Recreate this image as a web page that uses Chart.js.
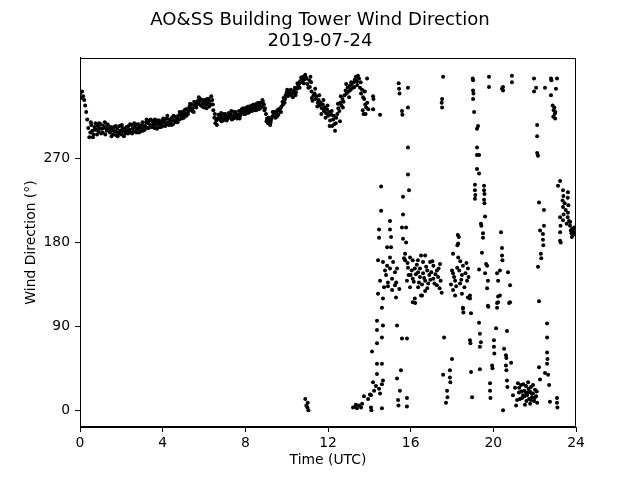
<!DOCTYPE html>
<html><head><meta charset="utf-8">
<script src="https://cdn.jsdelivr.net/npm/chart.js@4"></script>
<style>html,body{margin:0;padding:0;background:#fff}#wrap{width:640px;height:480px}</style>
</head><body><div id="wrap"><canvas id="c" width="640" height="480"></canvas></div>
<script>
// ---- Data: [hour UTC, wind direction degrees] ----
const hourTicks = [0, 4, 8, 12, 16, 20, 24];
const dirTicks = [0, 90, 180, 270];

const morningObs = [
[0.00,340],[0.05,335],[0.10,342],[0.15,337],[0.20,333],[0.25,327],[0.30,320],[0.35,312],[0.40,303],[0.45,293],
[0.50,298],[0.55,306],[0.60,300],[0.65,296],[0.70,304],[0.75,308],[0.80,301],[0.85,305],[0.90,299],[0.95,303],[1.00,307],[1.05,302],[1.10,298],[1.15,305],[1.20,309],[1.25,303],[1.30,300],[1.35,306],[1.40,302],[1.45,298],[1.50,304],
[1.55,301],[1.60,296],[1.65,304],[1.70,299],[1.75,295],[1.80,302],[1.85,298],[1.90,305],[1.95,300],[2.00,296],[2.05,303],[2.10,299],[2.15,302],[2.20,297],[2.25,304],[2.30,300],
[2.35,305],[2.40,301],[2.45,298],[2.50,306],[2.55,302],[2.60,299],[2.65,304],[2.70,307],[2.75,301],[2.80,303],[2.85,298],[2.90,305],[2.95,302],[3.00,306],[3.05,300],[3.10,304],
[3.15,305],[3.20,309],[3.25,303],[3.30,308],[3.35,311],[3.40,306],[3.45,304],[3.50,310],[3.55,307],[3.60,303],[3.65,309],[3.70,306],[3.75,311],[3.80,308],[3.85,304],[3.90,307],[3.95,310],[4.00,305],[4.05,309],[4.10,312],
[4.15,308],[4.20,313],[4.25,309],[4.30,306],[4.35,312],[4.40,310],[4.45,314],[4.50,307],[4.55,311],[4.60,315],[4.65,309],[4.70,313],
[4.75,316],[4.80,312],[4.85,318],[4.90,315],[4.95,320],[5.00,317],[5.05,322],[5.10,319],[5.15,316],[5.20,323],
[5.25,321],[5.30,326],[5.35,323],[5.40,328],[5.45,324],[5.50,320],[5.55,327],[5.60,330],
[5.65,328],[5.70,332],[5.75,336],[5.80,331],[5.85,327],[5.90,333],[5.95,329],[6.00,325],[6.05,331],[6.10,328],[6.15,334],[6.20,330],[6.25,326],[6.30,332],[6.35,337],[6.40,333],
[6.45,322],[6.50,314],[6.55,308],[6.60,311],
[6.65,313],[6.70,317],[6.75,312],[6.80,316],[6.85,310],[6.90,314],[6.95,318],[7.00,313],[7.05,316],[7.10,311],[7.15,315],[7.20,319],[7.25,314],[7.30,317],[7.35,312],[7.40,316],[7.45,320],[7.50,315],[7.55,318],[7.60,313],[7.65,317],[7.70,321],[7.75,316],[7.80,319],
[7.85,320],[7.90,324],[7.95,321],[8.00,318],[8.05,325],[8.10,322],[8.15,326],[8.20,320],[8.25,323],[8.30,327],
[8.35,324],[8.40,328],[8.45,322],[8.50,326],[8.55,329],[8.60,325],[8.65,323],[8.70,327],
[8.75,330],[8.80,326],[8.85,331],[8.90,328],[8.95,324],[9.00,318],
[9.05,313],[9.10,308],[9.15,311],[9.20,306],[9.25,312],[9.30,315],
[9.35,316],[9.40,320],[9.45,314],[9.50,319],[9.55,322],[9.60,317],[9.65,321],[9.70,324],
[9.75,326],[9.80,331],[9.85,335],[9.90,330],[9.95,338],[10.00,341],
[10.05,337],[10.10,342],[10.15,339],[10.20,344],[10.25,340],[10.30,336],[10.35,343],[10.40,346],[10.45,341],[10.50,345],[10.55,348],[10.60,350],
[10.65,353],[10.70,357],[10.75,352],[10.80,358],[10.85,355],[10.90,360],[10.95,356],[11.00,350],[11.05,346],[11.10,354],
[10.90,12],[10.95,5],[11.00,3],[11.02,8],[11.05,0]
];

const morningObs2 = [
[0.525,309],[0.625,293],[0.725,301],[0.825,296],[0.925,308],[1.025,297],[1.125,303],[1.225,296],[1.325,307],[1.425,301],
[1.525,294],[1.625,300],[1.725,305],[1.825,294],[1.925,297],[2.025,306],[2.125,294],[2.225,301],
[2.325,297],[2.425,307],[2.525,297],[2.625,308],[2.725,298],[2.825,307],[2.925,299],[3.025,309],
[3.125,301],[3.225,312],[3.325,303],[3.425,312],[3.525,304],[3.625,312],[3.725,302],[3.825,311],[3.925,304],[4.025,313],
[4.125,305],[4.225,316],[4.325,309],[4.425,306],[4.525,316],[4.625,310],
[4.725,309],[4.825,320],[4.925,313],[5.025,314],[5.125,323],
[5.225,318],[5.325,329],[5.425,321],[5.525,331],
[5.625,325],[5.725,329],[5.825,334],[5.925,326],[6.025,333],[6.125,324],[6.225,334],[6.325,328],
[6.425,328],[6.525,318],[6.625,306],
[6.725,314],[6.825,319],[6.925,311],[7.025,318],[7.125,313],[7.225,316],[7.325,321],[7.425,313],[7.525,320],[7.625,315],[7.725,313],[7.825,323],
[7.925,318],[8.025,322],[8.125,319],[8.225,325],[8.325,321],[8.425,324],[8.525,322],[8.625,330],
[8.725,324],[8.825,333],[8.925,322],[9.025,310],[9.125,314],[9.225,309],[9.325,320],
[9.425,318],[9.525,315],[9.625,323],[9.725,320],[9.825,328],[9.925,334],
[10.025,344],[10.125,338],[10.225,338],[10.325,341],[10.425,338],[10.525,351],[10.625,346],[10.725,354],[10.825,351],[10.925,357]
];

const noonObs = [
[11.15,358],[11.20,342],[11.22,335],[11.25,332],[11.30,338],[11.35,340],[11.40,334],[11.45,337],[11.50,330],[11.55,333],[11.60,327],[11.65,330],[11.70,324],[11.75,328],[11.80,321],[11.85,325],[11.90,319],[11.95,323],[12.00,316],[12.05,320],[12.10,311],[12.15,317],[12.20,305],[12.25,312],[12.30,307],[12.34,300],[12.40,314],[12.45,318],[12.50,324],[12.55,321],[12.58,310],[12.60,330],[12.65,327],[12.70,334],[12.75,331],[12.80,338],[12.85,343],[12.90,340],[12.95,346],[13.00,342],[13.05,348],[13.10,344],[13.15,350],[13.20,346],[13.25,352],[13.30,355],[13.35,358],[13.40,353],[13.45,359],[13.50,356],[13.55,346],[13.60,340],[13.65,344],[13.68,322],[13.70,336],[13.72,318],[13.75,334],[13.80,328],[13.85,325],[13.89,356],[13.90,330],[13.95,323],[14.18,337],[14.20,334],[14.18,323],[14.52,317],
[11.12,347],[11.18,352],[11.38,345],[11.48,326],[11.58,338],[11.68,318],[11.78,333],[11.88,314],[11.98,327],[12.08,305],[12.18,321],[12.28,316],[12.38,308],[12.48,329],[12.62,337],[12.72,325],[12.88,350],[13.02,336],[13.12,352],[13.28,347],[13.42,349],[13.58,352],[13.78,342],[13.82,318]
];

const upperObs = [
[15.42,351],[15.44,345],[15.46,340],[15.58,321],[15.60,317],[15.87,346],[15.87,325],[15.87,282],[17.57,358],[17.52,334],[17.50,330],[17.52,325],[19.00,356],[19.02,354],[19.02,343],[19.04,340],[19.02,334],[19.07,320],[19.26,305],[19.21,302],[19.21,282],[19.21,274],[19.31,274],[19.21,259],[19.31,254],[19.79,358],[19.79,347],[20.42,345],[20.47,347],[20.47,343],[20.90,359],[20.90,352],[21.97,356],[22.07,346],[21.97,342],[22.12,306],[22.12,294],[22.12,276],[22.16,273],[22.50,346],[22.79,356],[22.81,354],[23.08,356],[23.03,345],[22.79,338],[22.87,327],[22.92,322],[22.97,318],[22.90,315],[22.95,325],[22.99,313],[23.00,320]
];

const midObs = [
[14.57,240],[15.87,253],[15.92,236],[15.63,229],[14.57,214],[15.00,203],[14.47,194],[15.00,194],[14.47,185],[15.05,186],[14.86,175],[15.05,175],[14.42,161],[15.00,164],[15.63,210],[15.58,196],[15.78,196],[15.63,184],[15.78,180],[15.73,168],[15.73,161],[19.11,242],[19.11,236],[19.13,231],[19.11,227],[19.55,241],[19.55,236],[19.57,232],[19.55,226],[19.57,222],[19.60,208],[19.40,200],[19.42,198],[19.50,190],[19.50,185],[19.45,169],[19.31,151],[19.65,157],[20.37,191],[20.42,174],[20.42,166],[20.44,161],[22.21,223],[22.45,215],[22.45,198],[22.26,193],[22.40,189],[22.40,183],[22.42,177],[22.30,168],[22.32,163],[22.16,154],[18.28,188],[18.33,186],[18.26,177]
];

const lateObs = [
[23.23,246],[23.13,241],[23.37,236],[23.39,230],[23.35,225],[23.37,218],[23.40,210],[23.37,204],[23.61,234],[23.60,228],[23.63,220],[23.61,212],[23.60,207],[23.23,207],[23.25,198],[23.23,191],[23.23,182],[23.26,180],[23.71,198],[23.75,193],[23.78,190],[23.82,195],[23.85,188],[23.88,192],[23.92,196],[23.95,189],[23.50,215],[23.45,222],[23.55,200],[23.66,203],[23.98,193],[23.80,186],[23.72,202]
];

const southObs = [
[14.66,159],[14.86,155],[14.76,150],[15.00,152],[15.24,148],[14.81,145],[15.10,141],[14.90,137],[15.24,134],[14.71,132],[14.52,139],[15.15,159],[15.34,152],[14.90,133],[15.10,129],[15.30,137],[15.45,130],[14.42,125],[14.66,120],[14.61,110],[15.29,121],
[15.68,163],[15.97,164],[16.10,161],[16.50,166],[16.70,166],[16.60,159],[16.94,159],[17.10,155],[17.42,157],[15.87,153],[16.20,152],[16.36,148],[16.80,150],[17.00,148],[17.27,150],[15.82,139],[16.10,141],[16.45,143],[16.70,139],[17.10,141],[17.33,143],[15.97,132],[16.36,132],[16.85,136],[17.27,134],[17.50,126],[16.20,120],[16.50,123],[16.10,116],[16.22,115],[16.55,123],[16.00,145],[16.05,150],[16.15,138],[16.25,146],[16.30,156],[16.40,137],[16.45,152],[16.55,135],[16.60,147],[16.65,142],[16.75,154],[16.80,131],[16.90,145],[16.95,140],[17.05,160],[17.15,136],[17.20,146],[17.35,152],[17.40,131],[17.45,139],[15.85,158],[15.90,145],[16.35,161],[16.70,128],
[18.05,168],[18.30,179],[18.30,164],[18.25,153],[18.53,155],[18.77,152],[18.05,147],[18.48,145],[18.15,139],[18.39,136],[18.73,139],[18.05,129],[18.48,125],[18.77,121],[18.53,110],[18.15,123],[18.87,123],[18.87,120],[18.53,109],[18.55,105],[18.92,104],[18.10,143],[18.20,133],[18.35,150],[18.45,140],[18.60,132],[18.65,147],[18.70,158],[18.80,143],[18.40,160],[17.95,135],[18.00,150],
[19.70,155],[19.60,147],[19.74,139],[19.70,131],[20.18,147],[20.32,150],[20.23,139],[20.32,123],[20.23,116],[19.74,112],[20.71,148],[20.81,134],[20.81,116],[19.76,111],[20.23,122],[20.18,115],[20.18,110],[20.76,115],[22.21,117]
];

const northObs = [
[14.37,96],[14.37,86],[14.66,91],[15.34,91],[14.61,78],[15.58,77],[15.82,77],[14.37,72],[14.13,63],[14.37,50],[14.61,50],[14.37,39],[14.18,30],[14.32,26],[14.47,23],[14.61,28],[14.23,21],[14.52,18],[14.66,32],[14.08,16],[13.74,15],[13.94,12],[14.03,17],[13.31,4],[13.40,2],[13.50,5],[13.60,3],[13.35,6],[13.65,7],[13.21,3],[14.08,3],[14.10,0],[14.61,2],[15.53,43],[15.34,34],[15.48,21],[15.39,11],[15.41,5],[15.82,13],[15.82,4],
[17.62,78],[18.00,55],[17.90,43],[17.57,38],[17.90,35],[17.92,30],[17.76,21],[17.78,14],[17.71,8],[18.87,75],[18.89,72],[19.31,94],[19.35,82],[19.40,73],[19.35,68],[18.92,41],[19.35,44],[18.97,14],[19.84,29],[19.84,21],[19.86,13],[19.94,48],[19.96,45],[20.03,75],[20.03,68],[20.05,61],[20.13,88],[20.66,85],[20.52,66],[20.61,59],[20.63,56],[20.61,48],[20.63,43],[20.86,51],[20.66,32],[20.68,25],[20.47,0],
[20.95,16],[21.05,24],[21.15,11],[21.24,19],[21.34,27],[21.39,13],[21.49,21],[21.53,6],[21.58,26],[21.63,16],[21.68,30],[21.73,12],[21.77,20],[21.82,25],[21.87,14],[21.92,18],[21.97,10],[22.02,22],[22.07,15],[22.12,8],[21.19,29],[21.44,16],[21.68,19],[21.82,11],[21.92,27],[21.29,12],[21.58,19],[21.10,5],[21.35,20],[21.50,15],[21.70,23],[21.85,18],[22.00,13],[21.25,24],[21.60,10],[21.45,28],[22.10,20],[21.78,7],
[22.21,46],[22.26,33],[22.50,40],[22.60,93],[22.60,78],[22.60,62],[22.62,55],[22.60,50],[22.65,38],[22.70,27],[22.74,9],[23.08,13],[23.08,8],[23.10,3]
];

const allObs = [].concat(morningObs, morningObs2, noonObs, upperObs, midObs, lateObs, southObs, northObs);

const FONT = 'DejaVu Sans';
const framePlugin = {
  id: 'frame',
  afterDatasetsDraw(chart) {
    const {ctx, chartArea: a} = chart;
    ctx.save();
    ctx.strokeStyle = '#000';
    ctx.lineWidth = 1;
    const l = Math.round(a.left) + 0.5, t = Math.round(a.top) + 0.5;
    const r = Math.round(a.right) - 0.5, b = Math.round(a.bottom) - 0.5;
    ctx.strokeRect(l, t, r - l, b - t);
    ctx.restore();
  }
};

new Chart(document.getElementById('c'), {
  type: 'scatter',
  data: {
    datasets: [{
      data: allObs.map(([h, d]) => ({x: h, y: d})),
      backgroundColor: '#000',
      borderWidth: 0,
      pointRadius: 2,
      pointHoverRadius: 2
    }]
  },
  options: {
    responsive: false,
    animation: false,
    devicePixelRatio: 1,
    layout: {padding: 0},
    plugins: {
      legend: {display: false},
      tooltip: {enabled: false},
      title: {
        display: true,
        text: ['AO&SS Building Tower Wind Direction', '2019-07-24'],
        color: '#000',
        font: {family: FONT, size: 18.1, weight: 'normal', lineHeight: 1.16},
        padding: {top: 10, bottom: 6}
      }
    },
    scales: {
      x: {
        type: 'linear', min: 0, max: 24,
        afterBuildTicks: s => { s.ticks = hourTicks.map(v => ({value: v})); },
        afterFit: s => { s.height = 53; },
        grid: {display: true, drawOnChartArea: false, drawTicks: true, tickLength: 5, color: '#000'},
        border: {display: true, color: '#000'},
        ticks: {color: '#000', font: {family: FONT, size: 13.9}, padding: 3, maxRotation: 0, autoSkip: false},
        title: {display: true, text: 'Time (UTC)', color: '#000', font: {family: FONT, size: 13.9, lineHeight: 1.2}, padding: {top: 0, bottom: 11}}
      },
      y: {
        type: 'linear', min: -18, max: 378,
        afterBuildTicks: s => { s.ticks = dirTicks.map(v => ({value: v})); },
        afterFit: s => { s.width = 80; },
        grid: {display: true, drawOnChartArea: false, drawTicks: true, tickLength: 5, color: '#000'},
        border: {display: true, color: '#000'},
        ticks: {color: '#000', font: {family: FONT, size: 13.9}, padding: 5, autoSkip: false},
        title: {display: true, text: 'Wind Direction (°)', color: '#000', font: {family: FONT, size: 13.9, lineHeight: 1.2}, padding: {top: 23, bottom: 0}}
      },
      rightGap: {
        type: 'linear', position: 'right', display: true,
        afterFit: s => { s.width = 64; },
        grid: {display: false, drawTicks: false},
        border: {display: false},
        ticks: {display: false}
      }
    }
  },
  plugins: [framePlugin]
});
</script></body></html>
